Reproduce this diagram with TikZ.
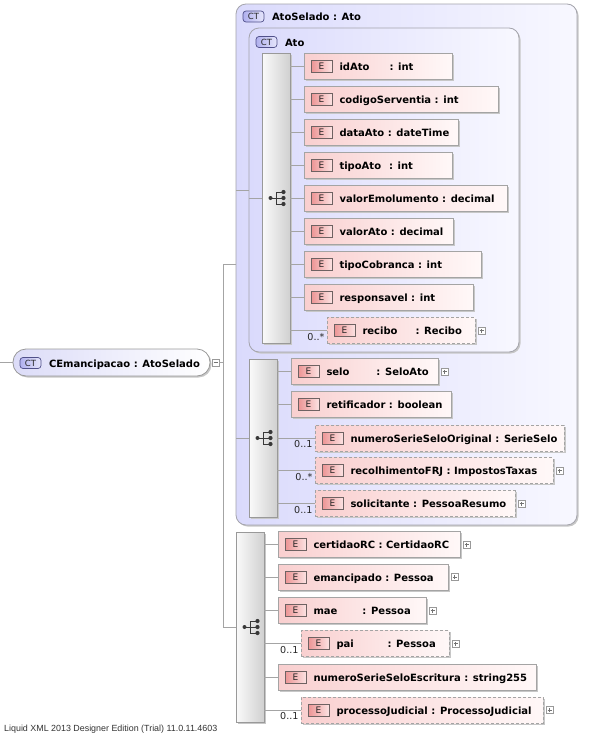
\documentclass[tikz,border=0pt]{standalone}
\usepackage{fontspec}
\setmainfont{DejaVu Sans}
\newfontfamily\footfont{Liberation Sans}
\usetikzlibrary{shadows}
\definecolor{lineC}{HTML}{A4A4A4}
\definecolor{elemL}{HTML}{F9CFCF}
\definecolor{elemR}{HTML}{FFF8F8}
\definecolor{elemB}{HTML}{A4A4A4}
\definecolor{badgeL}{HTML}{EC9494}
\definecolor{badgeR}{HTML}{FCE2E2}
\definecolor{badgeB}{HTML}{6E6262}
\definecolor{grpL}{HTML}{DADAFC}
\definecolor{grpR}{HTML}{F8F8FF}
\definecolor{grpB}{HTML}{A4A4AC}
\definecolor{seqL}{HTML}{FAFAFA}
\definecolor{seqR}{HTML}{D0D0D0}
\definecolor{ctL}{HTML}{B0B0EE}
\definecolor{ctR}{HTML}{E6E6FC}
\definecolor{ctB}{HTML}{50508A}
\definecolor{iconC}{HTML}{383838}
\definecolor{mainL}{HTML}{DCDCF8}
\tikzset{
  shad/.style={drop shadow={shadow xshift=1.5pt, shadow yshift=-1.5pt, fill=black!22, opacity=1}},
  conn/.style={draw=lineC, line width=0.8pt},
  elembox/.style={draw=elemB, line width=0.8pt, left color=elemL, right color=elemR, minimum height=26pt, inner sep=0, outer sep=0, shad},
  optbox/.style={dash pattern=on 3pt off 2pt},
  ebadge/.style={draw=badgeB, line width=0.6pt, left color=badgeL, right color=badgeR, minimum width=21pt, minimum height=12pt, inner sep=0, outer sep=0, font=\fontsize{9}{9}\selectfont, text=black!85},
  etext/.style={inner sep=0, outer sep=0, font=\fontsize{10}{12}\selectfont\bfseries},
  mult/.style={inner sep=0, outer sep=0, font=\fontsize{9.6}{10}\selectfont, text=black!85},
  xbox/.style={draw=black!40, fill=white, minimum size=7pt, inner sep=0, outer sep=0, line width=0.5pt},
  grpbox/.style={draw=grpB, line width=0.8pt, left color=grpL, right color=grpR, rounded corners=10pt, inner sep=0, outer sep=0, shad},
  seqbar/.style={draw=black!40, line width=0.8pt, left color=seqL, right color=seqR, minimum width=28pt, inner sep=0, outer sep=0, shad},
  mainbox/.style={draw=black!40, line width=0.8pt, left color=mainL, right color=white, rounded corners=13pt, minimum width=197pt, minimum height=27pt, inner sep=0, outer sep=0, shad},
  ctbadge/.style={draw=ctB, line width=0.7pt, left color=ctL, right color=ctR, rounded corners=3pt, minimum width=21pt, minimum height=11pt, inner sep=0, outer sep=0, font=\fontsize{8.5}{9}\selectfont, text=black!85},
  headtext/.style={inner sep=0, outer sep=0, font=\fontsize{10}{12}\selectfont\bfseries},
}
% element: name, left, right, center y, extra style, text
\newcommand\El[6]{%
  \node[elembox,#5,minimum width={(#3-#2)*1pt},anchor=west] (#1) at (#2,#4) {};
  \node[ebadge] (#1-E) at ([xshift=17.5pt]#1.west) {E};
  \node[etext,anchor=base west] (#1-t) at ([xshift=35.5pt,yshift=-4pt]#1.west) {#6};
}
\newcommand\Mult[2]{%
  \node[mult,anchor=base east] (#1-m) at ([xshift=-2.5pt,yshift=3.5pt]#1.south west) {#2};
}
\newcommand\PlusBox[1]{%
  \node[xbox] (#1-x) at ([xshift=6.5pt]#1.east) {};
  \draw[black!55,line width=.5pt] ([xshift=-2pt]#1-x.center) -- ([xshift=2pt]#1-x.center)
    ([yshift=-2pt]#1-x.center) -- ([yshift=2pt]#1-x.center);
}
\newcommand\SeqIcon[1]{%
  \coordinate (#1-ic) at ([xshift=1.5pt]#1.center);
  \draw[iconC, line width=1pt] ([xshift=-7pt]#1-ic) -- ([xshift=6pt]#1-ic)
    ([xshift=6pt,yshift=6pt]#1-ic) -- ([xshift=-1pt,yshift=6pt]#1-ic) -- ([xshift=-1pt,yshift=-6pt]#1-ic) -- ([xshift=6pt,yshift=-6pt]#1-ic);
  \fill[iconC] ([xshift=-7pt]#1-ic) circle (2pt) ([xshift=6pt,yshift=6pt]#1-ic) circle (2.1pt)
    ([xshift=6pt]#1-ic) circle (2.1pt) ([xshift=6pt,yshift=-6pt]#1-ic) circle (2.1pt);
}
\newcommand\Cn[2]{\draw[conn] (#1.east |- #2.west) -- (#2.west);}
\begin{document}
\begin{tikzpicture}[x=1pt,y=-1pt]
\fill[white] (0,0) rectangle (591,734);
\useasboundingbox (0,0) rectangle (591,734);

% ---- group boxes and bars
\node[grpbox, minimum width=341pt, minimum height=521pt, anchor=north west] (AtoSelado) at (236,4) {};
\node[grpbox, minimum width=270pt, minimum height=324pt, anchor=north west] (Ato) at (249,28) {};
\node[seqbar, minimum height=290pt, anchor=north west] (bar1) at (262,53) {};
\node[seqbar, minimum height=158pt, anchor=north west] (bar2) at (249,359) {};
\node[seqbar, minimum height=190pt, anchor=north west] (bar3) at (236,532) {};
\SeqIcon{bar1}
\SeqIcon{bar2}
\SeqIcon{bar3}

% headers
\node[ctbadge, anchor=west] (ctAtoSelado) at (243,16.5) {CT};
\node[headtext, anchor=base west] (hAtoSelado) at (272,20.5) {AtoSelado : Ato};
\node[ctbadge, anchor=west] (ctAto) at (256,42) {CT};
\node[headtext, anchor=base west] (hAto) at (285,46) {Ato};

% ---- root
\coordinate (start) at (0,362.5);
\node[mainbox, anchor=west] (CEm) at (13,362.5) {};
\node[ctbadge, anchor=west] (ctCEm) at (20,363) {CT};
\node[headtext, anchor=base west] (hCEm) at (49,367) {CEmancipacao : AtoSelado};
\node[xbox] (CEm-x) at ([xshift=5.5pt]CEm.east) {};
\draw[black!55,line width=.5pt] ([xshift=-2pt]CEm-x.center) -- ([xshift=2pt]CEm-x.center);
\coordinate (trunk) at (223,362.5);

\draw[conn] (start) -- (CEm.west);
\draw[conn] (CEm-x.east) -- (trunk);
\draw[conn] (trunk |- AtoSelado.west) -- (trunk |- bar3.west);
\draw[conn] (trunk |- AtoSelado.west) -- (AtoSelado.west);
\draw[conn] (trunk |- bar3.west) -- (bar3.west);
\draw[conn] (AtoSelado.west |- Ato.west) -- (Ato.west);
\draw[conn] (AtoSelado.west |- bar2.west) -- (bar2.west);
\draw[conn] (Ato.west |- bar1.west) -- (bar1.west);

% ---- Ato elements
\El{idAto}{304}{452}{66}{}{\makebox[50pt][l]{idAto}: int}
\El{codigoServentia}{304}{498}{99}{}{codigoServentia : int}
\El{dataAto}{304}{458}{132}{}{dataAto : dateTime}
\El{tipoAto}{304}{452}{165}{}{\makebox[49.5pt][l]{tipoAto}: int}
\El{valorEmolumento}{304}{507}{198}{}{valorEmolumento : decimal}
\El{valorAto}{304}{453}{231}{}{valorAto : decimal}
\El{tipoCobranca}{304}{481}{264}{}{tipoCobranca : int}
\El{responsavel}{304}{473}{297}{}{responsavel : int}
\El{recibo}{327}{475}{330.5}{optbox}{\makebox[53pt][l]{recibo}: Recibo}
\Mult{recibo}{0..*}
\PlusBox{recibo}
\foreach \e in {idAto,codigoServentia,dataAto,tipoAto,valorEmolumento,valorAto,tipoCobranca,responsavel,recibo}{\Cn{bar1}{\e}}

% ---- AtoSelado elements
\El{selo}{291}{438}{371.5}{}{\makebox[50pt][l]{selo}: SeloAto}
\PlusBox{selo}
\El{retificador}{291}{451}{404.5}{}{retificador : boolean}
\El{numeroSerieSeloOriginal}{315}{564}{438}{optbox}{numeroSerieSeloOriginal : SerieSelo}
\Mult{numeroSerieSeloOriginal}{0..1}
\El{recolhimentoFRJ}{315}{553}{470.5}{optbox}{recolhimentoFRJ : ImpostosTaxas}
\Mult{recolhimentoFRJ}{0..*}
\PlusBox{recolhimentoFRJ}
\El{solicitante}{315}{515}{503.5}{optbox}{solicitante : PessoaResumo}
\Mult{solicitante}{0..1}
\PlusBox{solicitante}
\foreach \e in {selo,retificador,numeroSerieSeloOriginal,recolhimentoFRJ,solicitante}{\Cn{bar2}{\e}}

% ---- CEmancipacao elements
\El{certidaoRC}{278}{460}{544.5}{}{certidaoRC : CertidaoRC}
\PlusBox{certidaoRC}
\El{emancipado}{278}{448}{577}{}{emancipado : Pessoa}
\PlusBox{emancipado}
\El{mae}{278}{426}{610.5}{}{\makebox[49pt][l]{mae}: Pessoa}
\PlusBox{mae}
\El{pai}{301}{449}{643.5}{optbox}{\makebox[51pt][l]{pai}: Pessoa}
\Mult{pai}{0..1}
\PlusBox{pai}
\El{numeroSerieSeloEscritura}{278}{536}{677}{}{numeroSerieSeloEscritura : string255}
\El{processoJudicial}{301}{543}{710}{optbox}{processoJudicial : ProcessoJudicial}
\Mult{processoJudicial}{0..1}
\PlusBox{processoJudicial}
\foreach \e in {certidaoRC,emancipado,mae,pai,numeroSerieSeloEscritura,processoJudicial}{\Cn{bar3}{\e}}

% footer
\node[anchor=base west, inner sep=0, font=\footfont\fontsize{8.9}{10}\selectfont, text=black!80] (foot) at (4,731.5) {Liquid XML 2013 Designer Edition (Trial) 11.0.11.4603};
\end{tikzpicture}
\end{document}
